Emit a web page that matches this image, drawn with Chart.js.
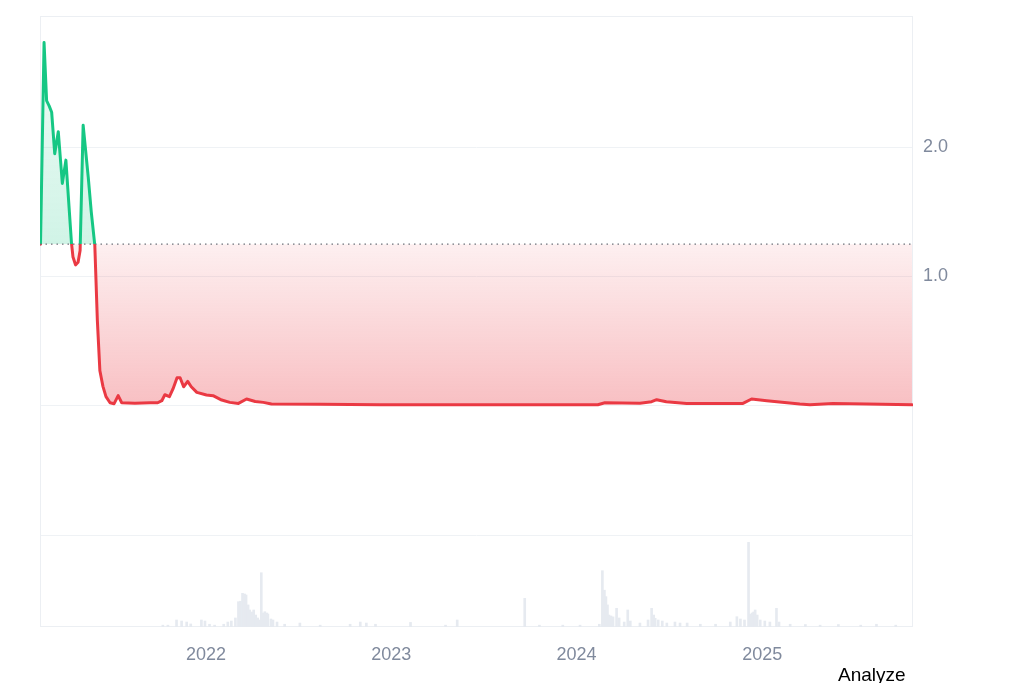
<!DOCTYPE html>
<html><head><meta charset="utf-8">
<script src="https://cdn.jsdelivr.net/npm/chart.js@4.4.0/dist/chart.umd.min.js"></script>
<style>
html,body{margin:0;padding:0;background:#fff;overflow:hidden}
#wrap{position:relative;width:1024px;height:683px}
#analyze{position:absolute;left:838px;top:665px;font:19px "Liberation Sans",Arial,sans-serif;color:#000;line-height:1;white-space:nowrap}
</style></head><body>
<div id="wrap"><canvas id="c" width="1024" height="683"></canvas><div id="analyze">Analyze</div></div>
<script>
// ---- data ----
const priceDates = [
 '2021-02-09','2021-02-16','2021-02-21','2021-02-26','2021-03-03','2021-03-09','2021-03-16','2021-03-24',
 '2021-03-31','2021-04-06','2021-04-11','2021-04-14','2021-04-19','2021-04-24','2021-04-28','2021-05-04',
 '2021-05-14','2021-05-20','2021-05-27','2021-06-01','2021-06-06','2021-06-12','2021-06-18','2021-06-26',
 '2021-07-04','2021-07-12','2021-07-19','2021-08-14','2021-09-13','2021-09-28','2021-10-06','2021-10-12',
 '2021-10-21','2021-10-28','2021-11-05','2021-11-11','2021-11-18','2021-11-26','2021-12-03','2021-12-14',
 '2022-01-02','2022-01-15','2022-02-01','2022-02-17','2022-03-06','2022-03-22','2022-04-08','2022-04-24',
 '2022-05-10','2022-08-14','2022-12-10','2023-04-28','2023-09-13','2024-02-12','2024-02-26','2024-05-05',
 '2024-05-28','2024-06-07','2024-06-26','2024-08-05','2024-10-09','2024-11-24','2024-12-11','2025-01-10',
 '2025-03-16','2025-04-05','2025-05-20','2025-07-26','2025-10-23'
];
const priceValues = [
 1.25,2.81,2.36,2.32,2.27,1.95,2.12,1.72,
 1.90,1.55,1.26,1.15,1.09,1.11,1.20,2.17,
 1.77,1.50,1.24,0.66,0.27,0.15,0.07,0.023,
 0.016,0.078,0.023,0.019,0.023,0.023,0.039,0.085,
 0.070,0.130,0.217,0.217,0.147,0.188,0.147,0.103,
 0.083,0.078,0.044,0.026,0.018,0.052,0.033,0.026,
 0.013,0.012,0.008,0.008,0.008,0.008,0.023,0.019,
 0.031,0.047,0.031,0.018,0.017,0.018,0.052,0.039,
 0.013,0.008,0.018,0.013,0.008
];
const baselineValue = 1.25;
const volumeDates = [
 '2021-10-08','2021-10-18','2021-11-04','2021-11-14','2021-11-24','2021-12-02','2021-12-23','2021-12-30',
 '2022-01-08','2022-01-18','2022-02-05','2022-02-13','2022-02-20','2022-02-28','2022-03-06','2022-03-10',
 '2022-03-14','2022-03-18','2022-03-21','2022-03-25','2022-03-28','2022-04-01','2022-04-05','2022-04-09',
 '2022-04-13','2022-04-17','2022-04-20','2022-04-24','2022-04-27','2022-05-01','2022-05-03','2022-05-09',
 '2022-05-13','2022-05-21','2022-06-05','2022-07-05','2022-08-14','2022-10-12','2022-11-01','2022-11-13',
 '2022-12-01','2023-02-08','2023-04-18','2023-05-11','2023-09-21','2023-10-20','2023-12-05','2024-01-08',
 '2024-02-15','2024-02-21','2024-02-25','2024-02-28','2024-03-02','2024-03-05','2024-03-09','2024-03-13',
 '2024-03-20','2024-03-25','2024-04-04','2024-04-11','2024-04-16','2024-05-05','2024-05-21','2024-05-28',
 '2024-06-01','2024-06-04','2024-06-10','2024-06-18','2024-06-27','2024-07-13','2024-07-23','2024-08-06',
 '2024-09-01','2024-10-01','2024-10-30','2024-11-12','2024-11-19','2024-11-27','2024-12-05','2024-12-08',
 '2024-12-12','2024-12-15','2024-12-18','2024-12-22','2024-12-28','2025-01-06','2025-01-16','2025-01-29',
 '2025-02-03','2025-02-25','2025-03-27','2025-04-25','2025-05-31','2025-07-14','2025-08-14','2025-09-21'
];
const volumeValues = [
 2,2,7.6,6.5,5.4,3.3,7.6,6.5,
 3,2,3,5.4,6.5,9.8,27.5,28,
 36.6,35.9,34.8,24,18.5,16.3,18.5,13,
 9.8,7.6,59,15.2,16.6,15.2,14,8.7,
 7.6,5.4,3,4.3,2,3,5.4,4.3,
 3,5,2,7.6,31.2,2,2,2,
 3,61.2,40,33,24,13,12,11,
 20.3,9.8,5.4,18.5,6.5,4.3,7.6,20.3,
 13,9.5,7.6,6.5,4.3,5.4,4.3,4.3,
 3,3,5.4,11.2,8.7,7.6,92,14,
 15.2,16.3,18.5,13,7.6,6.5,5.4,20.3,
 5.4,3,2.7,2,2.7,2,3,2
];
const yearTickLabels = ['2022','2023','2024','2025'];
const priceTickValues = [-1,0,1,2];
const priceTickLabels = {1:'1.0', 2:'2.0'};
const priceMin = -1, priceMax = 3.015;
const xStartDate = '2021-02-08', xEndDate = '2025-10-25';

// ---- helpers ----
const toDay = s => Date.UTC(+s.slice(0,4), +s.slice(5,7)-1, +s.slice(8,10)) / 864e5;
const GREEN = '#16c784', RED = '#ea3943';
const FONT = '"Liberation Sans", Arial, sans-serif';
Chart.defaults.font.family = FONT;

function okScale(s){ return s && isFinite(s.top) && isFinite(s.bottom) && s.bottom > s.top; }

const lineColor = ctx => {
  const ch = ctx.chart, s = ch.scales.y;
  if (!okScale(s)) return RED;
  const yb = s.getPixelForValue(baselineValue);
  const f = Math.min(1, Math.max(0, (yb - s.top) / (s.bottom - s.top)));
  const g = ch.ctx.createLinearGradient(0, s.top, 0, s.bottom);
  g.addColorStop(0, GREEN); g.addColorStop(f, GREEN);
  g.addColorStop(f, RED); g.addColorStop(1, RED);
  return g;
};
const fillColor = ctx => {
  const ch = ctx.chart, s = ch.scales.y;
  if (!okScale(s)) return 'rgba(234,57,67,0.15)';
  const yb = s.getPixelForValue(baselineValue);
  const y0 = s.getPixelForValue(0);
  const f = Math.min(1, Math.max(0, (yb - s.top) / (y0 - s.top)));
  const g = ch.ctx.createLinearGradient(0, s.top, 0, y0);
  g.addColorStop(0, 'rgba(22,199,132,0.06)');
  g.addColorStop(f, 'rgba(22,199,132,0.20)');
  g.addColorStop(f, 'rgba(234,57,67,0.08)');
  g.addColorStop(1, 'rgba(234,57,67,0.32)');
  return g;
};

const framePlugin = {
  id: 'frame',
  beforeDatasetsDraw(chart) {
    const a = chart.chartArea, c = chart.ctx;
    c.save(); c.strokeStyle = '#eceff3'; c.lineWidth = 1;
    c.strokeRect(Math.round(a.left) + 0.5, Math.round(a.top) + 0.5, Math.round(a.right - a.left) - 1, Math.round(a.bottom - a.top) - 1);
    c.restore();
  }
};

new Chart(document.getElementById('c'), {
  data: {
    datasets: [
      {
        type: 'line', label: 'baseline', order: 0,
        data: [{x: toDay(xStartDate), y: baselineValue}, {x: toDay(xEndDate), y: baselineValue}],
        borderColor: '#6e737b', borderWidth: 1.4, borderDash: [1.5, 4], pointRadius: 0, fill: false,
        xAxisID: 'x', yAxisID: 'y'
      },
      {
        type: 'line', label: 'price', order: 1,
        data: priceDates.map((d, i) => ({x: toDay(d), y: priceValues[i]})),
        borderColor: lineColor, backgroundColor: fillColor, borderWidth: 3,
        pointRadius: 0, tension: 0, borderJoinStyle: 'round', borderCapStyle: 'round',
        fill: {target: {value: baselineValue}},
        xAxisID: 'x', yAxisID: 'y'
      },
      {
        type: 'bar', label: 'volume', order: 2,
        data: volumeDates.map((d, i) => ({x: toDay(d), y: volumeValues[i]})),
        backgroundColor: '#e6eaf0', barThickness: 2, grouped: false,
        xAxisID: 'x', yAxisID: 'yv'
      }
    ]
  },
  options: {
    responsive: false, animation: false, devicePixelRatio: 1,
    layout: {padding: {left: 40, top: 16, right: 0, bottom: 0}},
    plugins: {legend: {display: false}, tooltip: {enabled: false}},
    scales: {
      x: {
        type: 'linear', position: 'bottom', offset: false,
        min: toDay(xStartDate), max: toDay(xEndDate),
        grid: {display: false, offset: false}, border: {display: false},
        afterBuildTicks: sc => { sc.ticks = yearTickLabels.map(y => ({value: toDay(y + '-01-01')})); },
        ticks: {
          autoSkip: false, maxRotation: 0, padding: 9,
          color: '#808a9d', font: {size: 18, family: FONT},
          callback: v => new Date(v * 864e5).getUTCFullYear().toString()
        },
        afterFit: sc => { sc.height = 56; sc.paddingLeft = 0; sc.paddingRight = 0; }
      },
      y: {
        type: 'linear', position: 'right', stack: 'main', stackWeight: 519,
        min: priceMin, max: priceMax,
        afterBuildTicks: sc => { sc.ticks = priceTickValues.map(v => ({value: v})); },
        grid: {color: '#eff2f5', drawTicks: false, lineWidth: 1},
        border: {display: false},
        ticks: {
          padding: 10, color: '#808a9d', font: {size: 18, family: FONT},
          callback: v => priceTickLabels[v] || ''
        },
        afterFit: sc => { sc.width = 111; sc.paddingTop = 0; sc.paddingBottom = 0; }
      },
      yv: {
        type: 'linear', position: 'right', stack: 'main', stackWeight: 92,
        min: 0, max: 100,
        grid: {display: false}, border: {display: false},
        ticks: {display: false},
        afterFit: sc => { sc.width = 111; sc.paddingTop = 0; sc.paddingBottom = 0; }
      }
    }
  },
  plugins: [framePlugin]
});
</script>
</body></html>
